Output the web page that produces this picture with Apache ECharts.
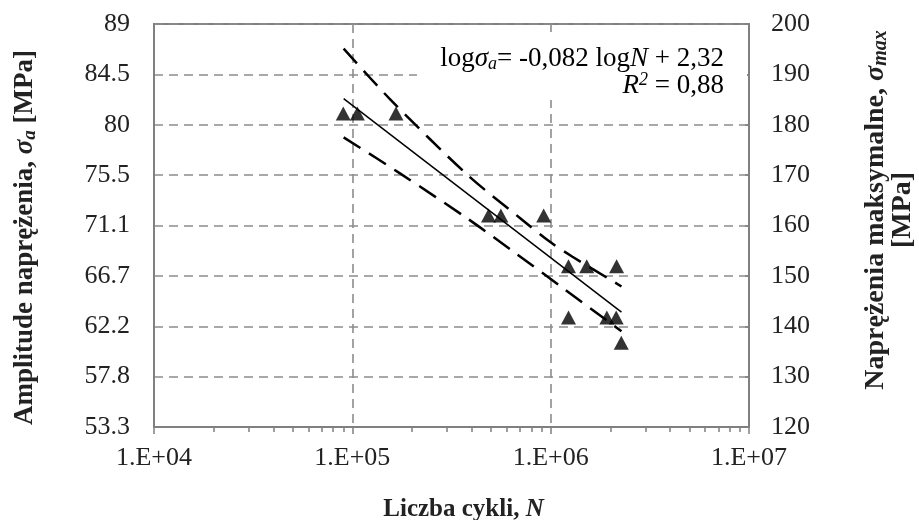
<!DOCTYPE html>
<html>
<head>
<meta charset="utf-8">
<script src="https://cdn.jsdelivr.net/npm/echarts@6/dist/echarts.min.js"></script>
<style>
  html, body { margin: 0; padding: 0; background: #fff; }
  #chart { width: 919px; height: 520px; }
</style>
</head>
<body>
<div id="chart"></div>
<script>
// punkty pomiarowe: liczba cykli N i naprężenie maksymalne [MPa]
var cycles = [90000, 106000, 166000, 486000, 561000, 922000, 1230000, 1520000, 2150000, 1230000, 1920000, 2140000, 2270000];
var sigmaMax = [182.25, 182.25, 182.25, 162, 162, 162, 151.9, 151.9, 151.9, 141.75, 141.75, 141.75, 136.7];

// linia regresji (odczyt z wykresu)
var fitN = [90400, 2275000];
var fitSigma = [185.2, 142.8];

// przedziały ufności
var upperN = [90400, 155600, 379300, 704700, 979500, 1288000, 2275000];
var upperSigma = [195.1, 185.0, 170.1, 161.4, 156.9, 153.8, 147.9];
var lowerN = [90400, 174600, 386400, 665300, 1124600, 2275000];
var lowerSigma = [177.5, 170.3, 161.2, 154.5, 147.9, 139.0];

// etykiety osi
var xLabels = ['1.E+04', '1.E+05', '1.E+06', '1.E+07'];
var sigmaALabels = ['53.3', '57.8', '62.2', '66.7', '71.1', '75.5', '80', '84.5', '89'];

function pairs (xs, ys) {
  var out = [];
  for (var i = 0; i < xs.length; i++) out.push([xs[i], ys[i]]);
  return out;
}

var serif = 'Liberation Serif, Times New Roman, serif';
var gridLine = { show: true, lineStyle: { color: '#8c8c8c', width: 1.6, type: [9, 6] } };
var bandStyle = { color: '#000', width: 2.5, type: [20, 10] };

var chart = echarts.init(document.getElementById('chart'));
chart.setOption({
  animation: false,
  backgroundColor: '#fff',
  textStyle: { fontFamily: serif },
  grid: {
    left: 154, right: 170, top: 24, bottom: 93,
    outerBoundsMode: 'none',
    containLabel: false,
    show: true, borderColor: '#808080', borderWidth: 2
  },
  xAxis: {
    type: 'log',
    logBase: 10,
    min: 10000,
    max: 10000000,
    name: 'Liczba cykli, {i|N}',
    nameLocation: 'middle',
    nameGap: 70,
    nameTextStyle: {
      fontFamily: serif, fontSize: 25, fontWeight: 'bold', color: '#222',
      padding: [0, 0, 0, 24],
      rich: { i: { fontFamily: serif, fontSize: 25, fontWeight: 'bold', fontStyle: 'italic', color: '#222' } }
    },
    axisLine: { lineStyle: { color: '#808080', width: 2 } },
    axisTick: { show: true, length: 7, lineStyle: { color: '#808080', width: 1.5 } },
    minorTick: { show: true, splitNumber: 9, length: 5, lineStyle: { color: '#808080', width: 1.5 } },
    minorSplitLine: { show: false },
    splitLine: gridLine,
    axisLabel: {
      fontFamily: serif, fontSize: 26, color: '#222', margin: 18,
      formatter: function (v) { return xLabels[Math.round(Math.log10(v)) - 4]; }
    }
  },
  yAxis: [
    {
      type: 'value',
      position: 'left',
      min: 120,
      max: 200,
      interval: 10,
      name: 'Amplitude naprężenia, {s|σ}{sub|a} [MPa]',
      nameLocation: 'middle',
      nameRotate: 90,
      nameGap: 114,
      nameTextStyle: {
        fontFamily: serif, fontSize: 27, fontWeight: 'bold', color: '#222',
        padding: [0, 24, 0, 0],
        rich: {
          s: { fontFamily: serif, fontSize: 27, fontWeight: 'bold', fontStyle: 'italic', color: '#222' },
          sub: { fontFamily: serif, fontSize: 19, fontWeight: 'bold', fontStyle: 'italic', color: '#222', padding: [10, 0, 0, 0] }
        }
      },
      axisLine: { show: true, lineStyle: { color: '#808080', width: 2 } },
      axisTick: { show: false },
      splitLine: gridLine,
      axisLabel: {
        fontFamily: serif, fontSize: 26, color: '#222', margin: 24,
        formatter: function (v) { return sigmaALabels[Math.round((v - 120) / 10)]; }
      }
    },
    {
      type: 'value',
      position: 'right',
      min: 120,
      max: 200,
      interval: 10,
      name: 'Naprężenia maksymalne, {s|σ}{sub|max}\n[MPa]',
      nameLocation: 'middle',
      nameRotate: 90,
      nameGap: 113,
      nameTextStyle: {
        fontFamily: serif, fontSize: 28, fontWeight: 'bold', color: '#222', lineHeight: 27,
        padding: [0, 0, 0, 31],
        rich: {
          s: { fontFamily: serif, fontSize: 28, fontWeight: 'bold', fontStyle: 'italic', color: '#222', lineHeight: 27 },
          sub: { fontFamily: serif, fontSize: 20, fontWeight: 'bold', fontStyle: 'italic', color: '#222', lineHeight: 27, padding: [10, 0, 0, 0] }
        }
      },
      axisLine: { show: true, lineStyle: { color: '#808080', width: 2 } },
      axisTick: { show: true, inside: true, length: 4, lineStyle: { color: '#808080', width: 1.5 } },
      splitLine: { show: false },
      axisLabel: { fontFamily: serif, fontSize: 26, color: '#222', margin: 22 }
    }
  ],
  graphic: [
    {
      type: 'rect',
      shape: { x: 417, y: 32, width: 330, height: 68 },
      style: { fill: '#fff' },
      z: 10
    },
    {
      type: 'text',
      z: 11,
      style: {
        x: 724,
        y: 45,
        align: 'right',
        verticalAlign: 'top',
        text: '{n|log}{i|σ}{sub|a}{n|= -0,082 log}{i|N}{n| + 2,32}\n{i|R}{sup|2}{n| = 0,88}',
        rich: {
          n: { fontFamily: serif, fontSize: 27, color: '#222', lineHeight: 27 },
          i: { fontFamily: serif, fontSize: 27, fontStyle: 'italic', color: '#222', lineHeight: 27 },
          sub: { fontFamily: serif, fontSize: 18, fontStyle: 'italic', color: '#222', lineHeight: 27, padding: [12, 0, 0, 0] },
          sup: { fontFamily: serif, fontSize: 18, fontStyle: 'italic', color: '#222', lineHeight: 27, padding: [0, 0, 10, 0] }
        }
      }
    }
  ],
  series: [
    {
      name: 'przedział górny',
      type: 'line',
      yAxisIndex: 1,
      data: pairs(upperN, upperSigma),
      smooth: 0.3,
      showSymbol: false,
      lineStyle: bandStyle,
      z: 3
    },
    {
      name: 'przedział dolny',
      type: 'line',
      yAxisIndex: 1,
      data: pairs(lowerN, lowerSigma),
      smooth: 0.3,
      showSymbol: false,
      lineStyle: bandStyle,
      z: 3
    },
    {
      name: 'regresja',
      type: 'line',
      yAxisIndex: 1,
      data: pairs(fitN, fitSigma),
      showSymbol: false,
      lineStyle: { color: '#000', width: 1.5 },
      z: 4
    },
    {
      name: 'pomiary',
      type: 'scatter',
      yAxisIndex: 1,
      data: pairs(cycles, sigmaMax),
      symbol: 'triangle',
      symbolSize: [15, 14],
      itemStyle: { color: '#000' },
      z: 5
    }
  ]
});
</script>
</body>
</html>
